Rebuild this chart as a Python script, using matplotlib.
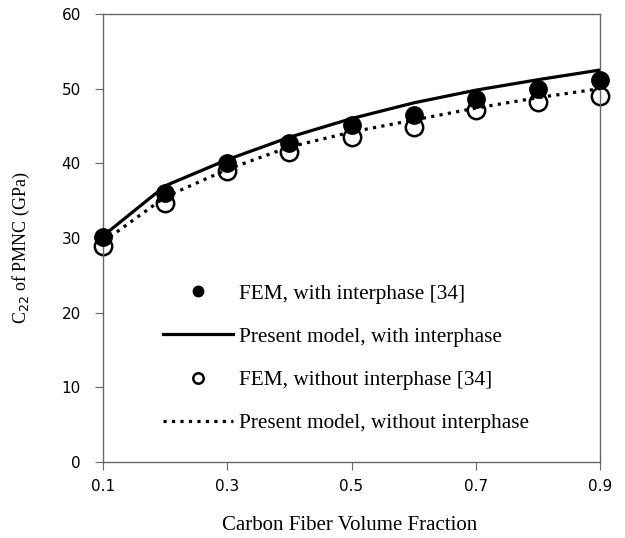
import matplotlib.pyplot as plt
import numpy as np

# carbon fiber volume fraction
vf = [0.1, 0.2, 0.3, 0.4, 0.5, 0.6, 0.7, 0.8, 0.9]

fem_with = [30.1, 36.0, 40.0, 42.7, 45.1, 46.5, 48.6, 49.9, 51.1]
fem_without = [29.0, 34.7, 39.0, 41.5, 43.5, 44.9, 47.2, 48.2, 49.0]
model_with = [30.3, 37.0, 40.5, 43.5, 46.0, 48.1, 49.8, 51.2, 52.5]
model_without = [29.5, 35.5, 39.2, 42.2, 44.2, 45.8, 47.4, 48.8, 50.0]

xticks = [0.1, 0.3, 0.5, 0.7, 0.9]
yticks = [0, 10, 20, 30, 40, 50, 60]

plt.rcParams['font.family'] = ['Liberation Serif', 'DejaVu Serif']

fig = plt.figure(figsize=(6.25, 5.38), dpi=100)
ax = fig.add_axes([0.165, 0.141, 0.795, 0.833])

ax.plot(vf, fem_with, 'o', color='black', markersize=12.5, zorder=3,
        clip_on=False, label='FEM, with interphase [34]')
ax.plot(vf, model_with, '-', color='black', lw=2.3, zorder=2,
        label='Present model, with interphase')
ax.plot(vf, fem_without, 'o', markerfacecolor='white', markeredgecolor='black',
        markeredgewidth=1.8, markersize=12.5, zorder=2, clip_on=False,
        label='FEM, without interphase [34]')
ax.plot(vf, model_without, ':', color='black', lw=2.3, zorder=2,
        label='Present model, without interphase')

ax.set_xlim(0.1, 0.9)
ax.set_ylim(0, 60)
ax.set_xticks(xticks)
ax.set_xticklabels(['0.1', '0.3', '0.5', '0.7', '0.9'])
ax.set_yticks(yticks)

for s in ax.spines.values():
    s.set_color('#666666')
    s.set_linewidth(1.0)
ax.tick_params(direction='out', length=6, color='#666666', labelsize=11)
for lbl in ax.get_xticklabels() + ax.get_yticklabels():
    lbl.set_family('DejaVu Sans')
ax.tick_params(axis='x', pad=6)
ax.tick_params(axis='y', pad=10)

ax.set_xlabel('Carbon Fiber Volume Fraction', fontsize=15)
ax.xaxis.set_label_coords(0.496, -0.12)
ax.set_ylabel('C$_{22}$ of PMNC (GPa)', fontsize=13)
ax.yaxis.set_label_coords(-0.143, 0.478)

leg = ax.legend(loc='center left', bbox_to_anchor=(0.121, 0.231), frameon=False,
                fontsize=15.3, markerscale=0.6, handlelength=3.3,
                labelspacing=1.1, handletextpad=0.25, borderpad=0,
                borderaxespad=0)

fig.savefig('out.png', dpi=100)
